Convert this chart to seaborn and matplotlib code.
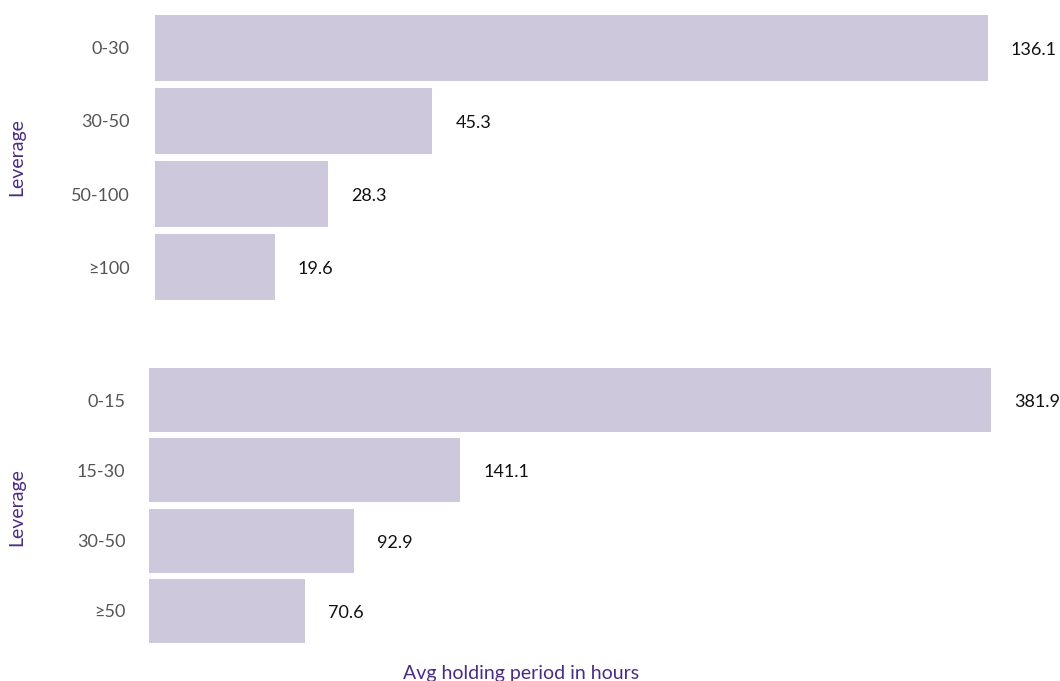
import matplotlib
matplotlib.use("Agg")
import matplotlib.pyplot as plt
import seaborn as sns
import pandas as pd

# Leverage buckets and average holding period (hours)
top_levels = ["0-30", "30-50", "50-100", "\u2265100"]
top_hours = [136.1, 45.3, 28.3, 19.6]

bottom_levels = ["0-15", "15-30", "30-50", "\u226550"]
bottom_hours = [381.9, 141.1, 92.9, 70.6]

BAR = "#CEC8DC"
PURPLE = "#4B2C83"
GREY = "#555555"

sns.set_theme(style="white")
plt.rcParams["font.family"] = ["Lato", "DejaVu Sans"]

W, H = 1060, 681
fig = plt.figure(figsize=(W / 100, H / 100), dpi=100)


def px_axes(left, right, top, bottom):
    return fig.add_axes([left / W, 1 - bottom / H, (right - left) / W, (bottom - top) / H])


def panel(ax, levels, hours, width, pad):
    df = pd.DataFrame({"lev": levels, "hours": hours})
    sns.barplot(data=df, y="lev", x="hours", orient="h", color=BAR,
                width=width, saturation=1, linewidth=0, ax=ax)
    ax.set_xlim(0, max(hours))
    n = len(levels)
    ax.set_ylim(n - 1 + width / 2, -width / 2)
    for i, v in enumerate(hours):
        ax.annotate(f"{v:.1f}", (v, i), xytext=(23, -2), textcoords="offset pixels",
                    ha="left", va="center", fontsize=13, color="#111111",
                    annotation_clip=False)
    sns.despine(ax=ax, left=True, bottom=True)
    ax.set_xticks([])
    ax.set_xlabel("")
    ax.set_ylabel("")
    ax.tick_params(axis="y", length=0, pad=pad, labelsize=13, labelcolor=GREY)


ax1 = px_axes(155, 988, 15, 300)
panel(ax1, top_levels, top_hours, 0.9, 18)

ax2 = px_axes(149, 991, 368, 643)
panel(ax2, bottom_levels, bottom_hours, 0.91, 17)

fig.text(17 / W, 1 - 157 / H, "Leverage", rotation=90, ha="center", va="center",
         fontsize=14, color=PURPLE)
fig.text(17 / W, 1 - 507 / H, "Leverage", rotation=90, ha="center", va="center",
         fontsize=14, color=PURPLE)
fig.text(521 / W, 1 - 673 / H, "Avg holding period in hours", ha="center", va="center",
         fontsize=14, color=PURPLE)

fig.savefig("out.png", dpi=100)
